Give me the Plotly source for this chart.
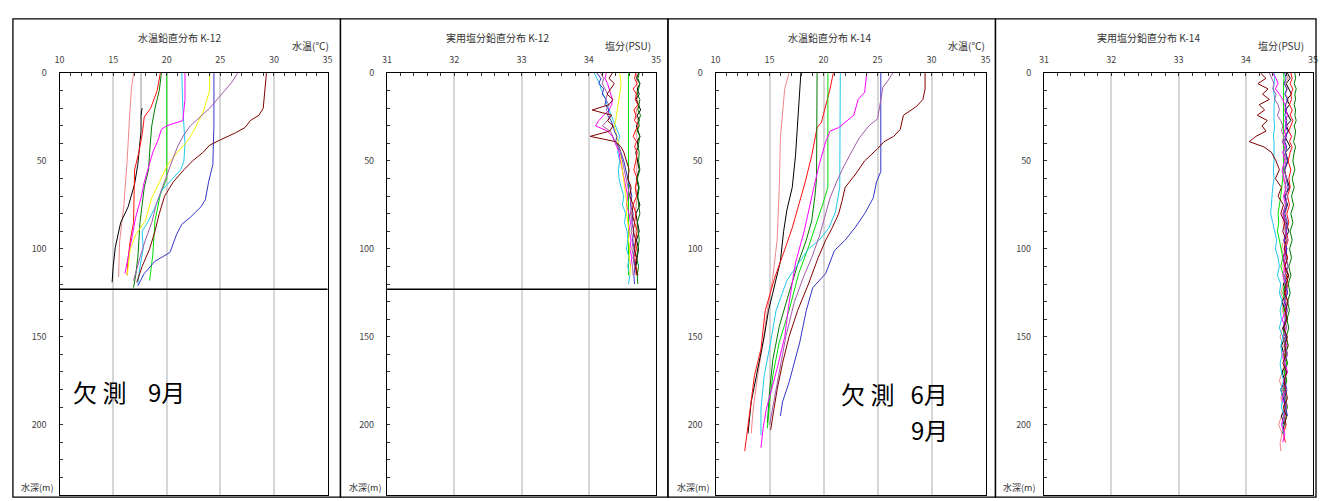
import plotly.graph_objects as go

W, H = 1323, 501          # browser window = figure size (page margin removed below)

# ---------------- colours (one per observation month) ----------------
C_PINK = "#f08888"
C_BLACK = "#000000"
C_RED = "#ff1010"
C_DKGREEN = "#007a00"
C_GREEN = "#00dd00"
C_CYAN = "#20c8f0"
C_MAGENTA = "#ff00ff"
C_YELLOW = "#f2f200"
C_BLUE = "#3434c8"
C_PURPLE = "#a05aa8"
C_MAROON = "#800000"
C_GRAY = "#909090"

# ---------------- K-12 water temperature (depth m, temp degC) ----------------
K12_T_PINK_D = [0, 9, 28, 50, 75, 96, 116]
K12_T_PINK = [16.9, 16.7, 16.5, 16.3, 16.0, 15.6, 15.5]
K12_T_GRAY_D = [0, 12, 24]
K12_T_GRAY = [17.6, 17.6, 17.6]
K12_T_BLACK_D = [20, 24, 33, 52, 63, 76, 85, 99, 110, 119]
K12_T_BLACK = [17.7, 17.6, 17.6, 17.3, 17.0, 16.4, 15.7, 15.2, 15.0, 14.9]
K12_T_RED_D = [0, 10, 20, 25, 35, 45, 55, 85, 95, 105, 115]
K12_T_RED = [19.4, 19.1, 18.5, 17.9, 17.7, 17.4, 17.0, 16.9, 16.6, 16.4, 16.3]
K12_T_DKGREEN_D = [0, 10, 20, 30, 45, 55, 65, 75, 85, 95, 105, 115, 122]
K12_T_DKGREEN = [19.5, 19.3, 18.9, 18.6, 18.4, 18.3, 17.9, 17.7, 17.5, 17.4, 17.3, 17.1, 16.9]
K12_T_GREEN_D = [0, 30, 60, 69, 84, 103, 114, 118]
K12_T_GREEN = [20.0, 20.0, 20.0, 19.4, 18.9, 18.7, 18.5, 18.4]
K12_T_CYAN_D = [0, 20, 40, 50, 55, 62, 67, 75, 84, 90, 100, 110, 120]
K12_T_CYAN = [21.4, 21.5, 21.7, 21.6, 21.3, 20.2, 19.5, 19.0, 18.3, 17.7, 17.8, 17.5, 17.3]
K12_T_MAGENTA_D = [0, 15, 27, 30, 32, 38, 45, 54, 62, 71, 82, 92, 105, 114]
K12_T_MAGENTA = [21.7, 21.7, 21.5, 20.0, 19.5, 19.2, 18.7, 18.3, 17.9, 17.6, 17.1, 16.8, 16.4, 16.1]
K12_T_YELLOW_D = [0, 10, 22, 33, 39, 45, 52, 60, 71, 84, 92, 100, 110, 115]
K12_T_YELLOW = [24.0, 24.0, 23.4, 22.5, 21.9, 21.0, 20.1, 19.5, 18.6, 18.0, 17.1, 16.6, 16.4, 16.3]
K12_T_BLUE_D = [0, 30, 52, 62, 72, 76, 82, 86, 92, 102, 107, 114, 121]
K12_T_BLUE = [24.4, 24.4, 24.3, 23.9, 23.6, 23.2, 22.2, 21.4, 20.9, 20.3, 18.9, 17.9, 17.3]
K12_T_PURPLE_D = [0, 5, 10, 15, 20, 25, 30, 35, 42, 50, 58, 66, 75, 85, 95, 105, 115, 118]
K12_T_PURPLE = [26.6, 26.1, 25.4, 24.7, 24.0, 23.1, 22.2, 21.6, 21.0, 20.5, 20.0, 19.5, 19.0, 18.6, 18.0, 17.5, 17.0, 16.9]
K12_T_MAROON_D = [0, 8, 20, 24, 27, 31, 34, 38, 41, 45, 50, 55, 62, 70, 80, 90, 100, 110, 119]
K12_T_MAROON = [29.3, 29.2, 29.0, 28.6, 27.8, 27.3, 26.4, 25.0, 24.0, 23.4, 22.4, 21.6, 20.6, 19.8, 19.3, 18.9, 18.4, 17.7, 17.2]

# ---------------- K-14 water temperature ----------------
K14_T_PINK_D = [0, 9, 37, 65, 95, 116, 135, 153, 172, 190, 205]
K14_T_PINK = [16.8, 16.4, 16.0, 15.9, 15.7, 15.3, 14.8, 14.4, 13.9, 13.5, 13.3]
K14_T_BLACK_D = [0, 28, 47, 65, 78, 90, 107, 125, 135, 150, 168, 187, 205]
K14_T_BLACK = [17.9, 17.6, 17.4, 17.1, 16.6, 16.3, 16.0, 15.3, 14.9, 14.5, 13.9, 13.3, 13.0]
K14_T_RED_D = [0, 9, 28, 31, 47, 62, 75, 88, 97, 116, 135, 157, 172, 195, 215]
K14_T_RED = [20.9, 20.6, 19.8, 19.4, 18.9, 18.3, 17.7, 17.1, 16.6, 15.5, 14.6, 14.2, 13.6, 13.1, 12.7]
K14_T_DKGREEN_D = [0, 30, 60, 70, 84, 95, 107, 125, 144, 163, 181, 199]
K14_T_DKGREEN = [19.4, 19.4, 19.35, 19.2, 18.9, 18.4, 17.7, 16.8, 15.9, 15.3, 15.0, 14.8]
K14_T_GREEN_D = [0, 30, 65, 75, 88, 99, 114, 135, 153, 172, 187, 202]
K14_T_GREEN = [20.4, 20.4, 20.4, 19.9, 19.2, 18.6, 17.7, 16.8, 15.9, 15.3, 15.0, 14.8]
K14_T_CYAN_D = [0, 30, 65, 79, 88, 95, 100, 108, 118, 135, 153, 172, 191, 206]
K14_T_CYAN = [21.55, 21.55, 21.5, 21.1, 20.5, 19.6, 18.6, 17.7, 16.6, 15.6, 15.1, 14.5, 14.2, 14.2]
K14_T_MAGENTA_D = [0, 11, 15, 24, 31, 33, 39, 52, 65, 78, 90, 108, 131, 150, 168, 191, 202, 213]
K14_T_MAGENTA = [24.0, 23.8, 23.2, 22.8, 21.4, 20.6, 20.2, 19.6, 19.1, 18.6, 18.2, 17.4, 16.8, 16.4, 15.7, 14.7, 14.4, 14.2]
K14_T_BLUE_D = [0, 30, 56, 62, 71, 80, 88, 95, 101, 114, 122, 135, 153, 176, 187, 195]
K14_T_BLUE = [25.3, 25.3, 25.3, 24.9, 24.6, 23.8, 22.9, 22.0, 21.0, 20.2, 19.0, 18.4, 17.8, 16.8, 16.2, 16.0]
K14_T_PURPLE_D = [0, 4, 8, 16, 26, 30, 37, 47, 54, 62, 71, 82, 93, 105, 115, 130, 150, 170, 190, 200]
K14_T_PURPLE = [26.4, 26.0, 25.5, 25.3, 25.0, 24.2, 23.3, 22.4, 21.8, 21.2, 20.6, 20.1, 19.6, 18.9, 18.2, 17.3, 16.5, 15.9, 15.3, 15.0]
K14_T_MAROON_D = [0, 9, 15, 19, 24, 32, 36, 39, 43, 50, 58, 65, 73, 80, 88, 95, 105, 120, 135, 150, 165, 180, 195, 203]
K14_T_MAROON = [29.4, 29.4, 29.2, 28.6, 27.4, 27.1, 26.5, 25.6, 25.0, 23.8, 22.9, 22.0, 21.7, 21.4, 20.8, 20.2, 19.5, 18.6, 17.6, 16.8, 16.2, 15.7, 15.3, 15.1]

# ---------------- K-12 practical salinity ----------------
K12_S_DEPTH = [0, 3, 6, 9, 12, 15, 18, 21, 24, 27, 30, 33, 36, 39, 42, 45, 50, 55, 60, 65, 70, 75, 80, 85, 90, 95, 100, 105, 110, 115, 120]
K12_S_PINK = [34.70, 34.72, 34.71, 34.73, 34.70, 34.72, 34.74, 34.71, 34.70, 34.73, 34.72, 34.70, 34.71, 34.73, 34.72, 34.70, 34.72, 34.71, 34.73, 34.70, 34.72, 34.71, 34.69, 34.72, 34.70, 34.71, 34.69, 34.70, 34.68, 34.70, 34.69]
K12_S_BLACK = [34.74, 34.71, 34.76, 34.72, 34.75, 34.70, 34.74, 34.77, 34.72, 34.75, 34.71, 34.74, 34.76, 34.72, 34.74, 34.70, 34.73, 34.75, 34.71, 34.74, 34.72, 34.76, 34.70, 34.73, 34.75, 34.71, 34.74, 34.72, 34.70, 34.73, 34.71]
K12_S_RED = [34.70, 34.68, 34.72, 34.66, 34.71, 34.69, 34.73, 34.67, 34.70, 34.68, 34.74, 34.69, 34.66, 34.71, 34.68, 34.72, 34.70, 34.67, 34.72, 34.69, 34.71, 34.66, 34.70, 34.68, 34.72, 34.69, 34.71, 34.67, 34.70, 34.72, 34.69]
K12_S_DKGREEN = [34.75, 34.73, 34.76, 34.74, 34.72, 34.76, 34.75, 34.73, 34.77, 34.74, 34.75, 34.72, 34.76, 34.74, 34.73, 34.75, 34.74, 34.76, 34.72, 34.75, 34.73, 34.74, 34.76, 34.72, 34.74, 34.75, 34.73, 34.71, 34.74, 34.72, 34.73]
K12_S_GREEN = [34.59, 34.59, 34.58, 34.59, 34.59, 34.58, 34.59, 34.59, 34.59, 34.58, 34.59, 34.59, 34.58, 34.59, 34.59, 34.59, 34.58, 34.59, 34.59, 34.58, 34.59, 34.59, 34.58, 34.59, 34.59, 34.58, 34.59, 34.59, 34.58, 34.59, 34.59]
K12_S_CYAN = [34.08, 34.12, 34.16, 34.18, 34.22, 34.25, 34.27, 34.30, 34.33, 34.36, 34.40, 34.42, 34.46, 34.44, 34.45, 34.43, 34.46, 34.44, 34.45, 34.48, 34.52, 34.50, 34.55, 34.53, 34.57, 34.58, 34.56, 34.60, 34.58, 34.61, 34.59]
K12_S_MAGENTA = [34.26, 34.24, 34.28, 34.30, 34.33, 34.35, 34.34, 34.30, 34.22, 34.15, 34.10, 34.28, 34.35, 34.38, 34.42, 34.45, 34.47, 34.50, 34.53, 34.55, 34.58, 34.56, 34.60, 34.62, 34.60, 34.63, 34.61, 34.64, 34.62, 34.65, 34.63]
K12_S_YELLOW = [34.46, 34.47, 34.48, 34.47, 34.46, 34.45, 34.44, 34.43, 34.42, 34.40, 34.38, 34.40, 34.42, 34.44, 34.45, 34.47, 34.48, 34.50, 34.52, 34.53, 34.55, 34.57, 34.56, 34.58, 34.60, 34.59, 34.61, 34.60, 34.62, 34.61, 34.63]
K12_S_BLUE = [34.12, 34.18, 34.15, 34.22, 34.20, 34.26, 34.24, 34.30, 34.28, 34.33, 34.36, 34.38, 34.42, 34.40, 34.45, 34.48, 34.52, 34.55, 34.58, 34.61, 34.64, 34.62, 34.66, 34.64, 34.67, 34.65, 34.68, 34.66, 34.69, 34.67, 34.68]
K12_S_PURPLE = [34.18, 34.22, 34.20, 34.24, 34.28, 34.25, 34.30, 34.26, 34.32, 34.28, 34.20, 34.32, 34.36, 34.40, 34.44, 34.47, 34.50, 34.53, 34.56, 34.58, 34.61, 34.63, 34.62, 34.65, 34.63, 34.66, 34.64, 34.67, 34.65, 34.66, 34.64]
K12_S_MAROON = [34.35, 34.30, 34.38, 34.33, 34.27, 34.36, 34.30, 34.05, 34.34, 34.28, 34.36, 34.31, 34.02, 34.40, 34.48, 34.52, 34.56, 34.60, 34.58, 34.63, 34.61, 34.66, 34.64, 34.68, 34.66, 34.70, 34.67, 34.71, 34.69, 34.72, 34.70]

# ---------------- K-14 practical salinity ----------------
K14_S_DEPTH = [0, 3, 6, 9, 12, 15, 18, 21, 24, 27, 30, 33, 36, 39, 42, 45, 50, 55, 60, 65, 70, 75, 80, 85, 90, 95, 100, 105, 110, 115, 120, 125, 130, 135, 140, 145, 150, 155, 160, 165, 170, 175, 180, 185, 190, 195, 200, 205, 210, 215]
K14_S_PINK = [34.60, 34.63, 34.58, 34.62, 34.59, 34.64, 34.60, 34.57, 34.62, 34.59, 34.63, 34.58, 34.61, 34.57, 34.60, 34.56, 34.62, 34.58, 34.55, 34.60, 34.57, 34.62, 34.58, 34.55, 34.60, 34.57, 34.53, 34.58, 34.55, 34.60, 34.56, 34.52, 34.57, 34.54, 34.59, 34.55, 34.51, 34.56, 34.53, 34.58, 34.54, 34.50, 34.55, 34.52, 34.57, 34.53, 34.49, 34.54, 34.51, 34.52]
K14_S_BLACK = [34.62, 34.66, 34.60, 34.64, 34.68, 34.61, 34.65, 34.59, 34.63, 34.67, 34.60, 34.64, 34.58, 34.62, 34.66, 34.59, 34.63, 34.57, 34.61, 34.65, 34.58, 34.62, 34.56, 34.60, 34.64, 34.57, 34.61, 34.55, 34.59, 34.63, 34.56, 34.60, 34.54, 34.58, 34.62, 34.55, 34.59, 34.53, 34.57, 34.61, 34.54, 34.58, 34.52, 34.56, 34.60, 34.53, 34.57, 34.55, 34.58, 34.54]
K14_S_RED = [34.67, 34.69, 34.66, 34.70, 34.67, 34.68, 34.65, 34.69, 34.66, 34.70, 34.67, 34.64, 34.68, 34.65, 34.69, 34.66, 34.63, 34.67, 34.64, 34.66, 34.62, 34.65, 34.61, 34.64, 34.60, 34.63, 34.59, 34.62, 34.58, 34.61, 34.63, 34.59, 34.62, 34.58, 34.61, 34.57, 34.60, 34.63, 34.58, 34.61, 34.57, 34.60, 34.56, 34.59, 34.62, 34.57, 34.60, 34.56, 34.59, 34.57]
K14_S_DKGREEN = [34.73, 34.74, 34.72, 34.75, 34.73, 34.74, 34.72, 34.74, 34.73, 34.75, 34.72, 34.74, 34.73, 34.71, 34.74, 34.72, 34.70, 34.73, 34.69, 34.72, 34.68, 34.71, 34.67, 34.70, 34.66, 34.69, 34.65, 34.68, 34.64, 34.67, 34.63, 34.66, 34.62, 34.65, 34.61, 34.64, 34.60, 34.63, 34.59, 34.62, 34.58, 34.61, 34.57, 34.60, 34.58, 34.61, 34.57, 34.59, 34.60, 34.58]
K14_S_GREEN = [34.56, 34.57, 34.56, 34.56, 34.57, 34.56, 34.56, 34.57, 34.56, 34.56, 34.57, 34.56, 34.56, 34.57, 34.56, 34.56, 34.57, 34.56, 34.55, 34.54, 34.52, 34.50, 34.48, 34.49, 34.47, 34.50, 34.53, 34.55, 34.52, 34.56, 34.58, 34.55, 34.59, 34.56, 34.60, 34.57, 34.55, 34.59, 34.56, 34.61, 34.57, 34.60, 34.56, 34.58, 34.62, 34.57, 34.59, 34.56, 34.60, 34.58]
K14_S_CYAN = [34.42, 34.43, 34.42, 34.41, 34.42, 34.43, 34.42, 34.42, 34.41, 34.42, 34.43, 34.42, 34.41, 34.42, 34.42, 34.43, 34.42, 34.41, 34.42, 34.40, 34.39, 34.38, 34.37, 34.40, 34.43, 34.46, 34.44, 34.48, 34.50, 34.47, 34.52, 34.50, 34.54, 34.51, 34.53, 34.50, 34.55, 34.52, 34.54, 34.51, 34.53, 34.56, 34.52, 34.55, 34.53, 34.57, 34.54, 34.56, 34.53, 34.55]
K14_S_MAGENTA = [34.40, 34.45, 34.48, 34.44, 34.50, 34.55, 34.58, 34.60, 34.62, 34.58, 34.61, 34.57, 34.60, 34.56, 34.59, 34.55, 34.58, 34.54, 34.57, 34.60, 34.56, 34.59, 34.55, 34.58, 34.61, 34.57, 34.60, 34.56, 34.59, 34.55, 34.58, 34.62, 34.57, 34.60, 34.54, 34.59, 34.56, 34.61, 34.55, 34.58, 34.62, 34.56, 34.59, 34.54, 34.60, 34.57, 34.53, 34.58, 34.55, 34.52]
K14_S_BLUE = [34.58, 34.60, 34.57, 34.61, 34.58, 34.62, 34.59, 34.60, 34.58, 34.61, 34.59, 34.62, 34.60, 34.58, 34.61, 34.59, 34.62, 34.58, 34.60, 34.63, 34.59, 34.61, 34.58, 34.62, 34.60, 34.57, 34.61, 34.59, 34.63, 34.58, 34.60, 34.62, 34.58, 34.61, 34.59, 34.56, 34.60, 34.58, 34.62, 34.57, 34.60, 34.58, 34.61, 34.57, 34.59, 34.62, 34.58, 34.60, 34.57, 34.59]
K14_S_PURPLE = [34.35, 34.38, 34.42, 34.40, 34.45, 34.43, 34.48, 34.50, 34.47, 34.52, 34.55, 34.53, 34.57, 34.54, 34.58, 34.56, 34.60, 34.57, 34.61, 34.58, 34.62, 34.59, 34.56, 34.60, 34.58, 34.62, 34.57, 34.60, 34.63, 34.58, 34.61, 34.57, 34.60, 34.62, 34.58, 34.61, 34.56, 34.59, 34.62, 34.57, 34.60, 34.58, 34.55, 34.59, 34.61, 34.56, 34.59, 34.57, 34.60, 34.58]
K14_S_MAROON = [34.22, 34.30, 34.18, 34.33, 34.25, 34.35, 34.20, 34.28, 34.17, 34.32, 34.24, 34.30, 34.15, 34.05, 34.27, 34.38, 34.45, 34.50, 34.44, 34.53, 34.48, 34.56, 34.52, 34.58, 34.55, 34.60, 34.57, 34.62, 34.58, 34.64, 34.60, 34.57, 34.63, 34.59, 34.61, 34.56, 34.62, 34.58, 34.60, 34.55, 34.61, 34.57, 34.59, 34.62, 34.56, 34.60, 34.58, 34.61, 34.57, 34.59]

# deepest observed depth of each profile (m)
K12_END = {"pink": 116, "black": 119, "red": 115, "dkgreen": 122, "green": 118, "cyan": 120,
           "magenta": 114, "yellow": 115, "blue": 121, "purple": 118, "maroon": 119}
K14_END = {"pink": 215, "black": 205, "red": 213, "dkgreen": 200, "green": 202, "cyan": 206,
           "magenta": 210, "blue": 195, "purple": 200, "maroon": 203}
K12_BOTTOM = 123  # sea-floor depth at K-12 (m)

# axis settings
TEMP_RANGE = [10, 35]
SAL_RANGE = [31, 35]
DEPTH_RANGE = [240, 0]

TITLES = ["水温鉛直分布 K-12", "実用塩分鉛直分布 K-12", "水温鉛直分布 K-14", "実用塩分鉛直分布 K-14"]
UNITS = ["水温(℃)", "塩分(PSU)", "水温(℃)", "塩分(PSU)"]
NOTE_K12 = "欠\u00a0測\u00a0\u00a0\u00a0\u00a09月"
NOTE_K14_A = "欠\u00a0測\u00a0\u00a0\u00a06月"
NOTE_K14_B = "9月"

# ---------------- layout geometry (window pixels) ----------------
PLOT_X = [(55, 325), (385, 656), (716, 988), (1047, 1318)]
PLOT_Y = (67, 495)
PANEL_X = [(8, 338), (338, 668), (668, 998), (998, 1321)]
PANEL_Y = (12, 497)


def fx(px):
    return min(1.0, max(0.0, px / W))


def fy(py):
    return min(1.0, max(0.0, 1 - py / H))


fig = go.Figure()

COLORS = {"pink": C_PINK, "gray": C_GRAY, "black": C_BLACK, "red": C_RED, "dkgreen": C_DKGREEN,
          "green": C_GREEN, "cyan": C_CYAN, "magenta": C_MAGENTA, "yellow": C_YELLOW, "blue": C_BLUE,
          "purple": C_PURPLE, "maroon": C_MAROON}

k12_temp = [("pink", K12_T_PINK_D, K12_T_PINK), ("gray", K12_T_GRAY_D, K12_T_GRAY),
            ("black", K12_T_BLACK_D, K12_T_BLACK),
            ("red", K12_T_RED_D, K12_T_RED), ("dkgreen", K12_T_DKGREEN_D, K12_T_DKGREEN),
            ("green", K12_T_GREEN_D, K12_T_GREEN), ("cyan", K12_T_CYAN_D, K12_T_CYAN),
            ("magenta", K12_T_MAGENTA_D, K12_T_MAGENTA), ("yellow", K12_T_YELLOW_D, K12_T_YELLOW),
            ("blue", K12_T_BLUE_D, K12_T_BLUE), ("purple", K12_T_PURPLE_D, K12_T_PURPLE),
            ("maroon", K12_T_MAROON_D, K12_T_MAROON)]
k14_temp = [("pink", K14_T_PINK_D, K14_T_PINK), ("black", K14_T_BLACK_D, K14_T_BLACK),
            ("red", K14_T_RED_D, K14_T_RED), ("dkgreen", K14_T_DKGREEN_D, K14_T_DKGREEN),
            ("green", K14_T_GREEN_D, K14_T_GREEN), ("cyan", K14_T_CYAN_D, K14_T_CYAN),
            ("magenta", K14_T_MAGENTA_D, K14_T_MAGENTA), ("blue", K14_T_BLUE_D, K14_T_BLUE),
            ("purple", K14_T_PURPLE_D, K14_T_PURPLE), ("maroon", K14_T_MAROON_D, K14_T_MAROON)]
k12_sal = [("pink", K12_S_PINK), ("black", K12_S_BLACK), ("red", K12_S_RED), ("dkgreen", K12_S_DKGREEN),
           ("green", K12_S_GREEN), ("cyan", K12_S_CYAN), ("magenta", K12_S_MAGENTA),
           ("yellow", K12_S_YELLOW), ("blue", K12_S_BLUE), ("purple", K12_S_PURPLE), ("maroon", K12_S_MAROON)]
k14_sal = [("pink", K14_S_PINK), ("black", K14_S_BLACK), ("red", K14_S_RED), ("dkgreen", K14_S_DKGREEN),
           ("green", K14_S_GREEN), ("cyan", K14_S_CYAN), ("magenta", K14_S_MAGENTA),
           ("blue", K14_S_BLUE), ("purple", K14_S_PURPLE), ("maroon", K14_S_MAROON)]


def add_line(x, y, color, ax):
    fig.add_trace(go.Scatter(x=x, y=y, mode="lines", line=dict(color=color, width=1),
                             xaxis="x" + ax, yaxis="y" + ax, showlegend=False, hoverinfo="skip"))


for name, d, t in k12_temp:
    add_line(t, d, COLORS[name], "")
for name, v in k12_sal:
    dd = [d for d in K12_S_DEPTH if d <= K12_END[name]]
    add_line(v[:len(dd)], dd, COLORS[name], "2")
for name, d, t in k14_temp:
    add_line(t, d, COLORS[name], "3")
for name, v in k14_sal:
    dd = [d for d in K14_S_DEPTH if d <= K14_END[name]]
    add_line(v[:len(dd)], dd, COLORS[name], "4")

TICK_FONT = dict(family="Noto Sans CJK JP, DejaVu Sans", size=9, color="#444444")
layout = dict(width=W, height=H, margin=dict(l=0, r=0, t=0, b=0), autosize=False,
              paper_bgcolor="white", plot_bgcolor="white", showlegend=False)

for i in range(4):
    sfx = "" if i == 0 else str(i + 1)
    is_temp = i in (0, 2)
    layout["xaxis" + sfx] = dict(
        domain=[fx(PLOT_X[i][0]), fx(PLOT_X[i][1])], anchor="y" + sfx, side="top",
        range=TEMP_RANGE if is_temp else SAL_RANGE, dtick=5 if is_temp else 1,
        tick0=10 if is_temp else 31,
        showgrid=True, gridcolor="#d6d6d6", gridwidth=1.5,
        showline=True, mirror=True, linecolor="black", linewidth=1.3,
        ticks="inside", ticklen=3, tickcolor="#333333",
        minor=dict(dtick=1 if is_temp else 0.2, ticks="inside", ticklen=3, tickcolor="#333333",
                   showgrid=False),
        tickfont=TICK_FONT, ticklabelstandoff=5, zeroline=False, fixedrange=True)
    layout["yaxis" + sfx] = dict(
        domain=[fy(PLOT_Y[1]), fy(PLOT_Y[0])], anchor="x" + sfx, range=DEPTH_RANGE,
        dtick=50, tick0=0, showgrid=False, zeroline=False,
        showline=True, mirror=True, linecolor="black", linewidth=1.3,
        ticks="inside", ticklen=3, tickcolor="#333333",
        minor=dict(dtick=10, ticks="inside", ticklen=3, tickcolor="#333333", showgrid=False),
        tickfont=TICK_FONT, ticklabelstandoff=10, fixedrange=True)

fig.update_layout(**layout)

shapes = []
for (x0, x1) in PANEL_X:
    shapes.append(dict(type="rect", xref="paper", yref="paper", x0=fx(x0), x1=fx(x1),
                       y0=fy(PANEL_Y[1]), y1=fy(PANEL_Y[0]), line=dict(color="black", width=1.3)))
for ax in ("x", "x2"):
    ya = "y" if ax == "x" else "y2"
    shapes.append(dict(type="line", xref=ax + " domain", yref=ya, x0=0, x1=1,
                       y0=K12_BOTTOM, y1=K12_BOTTOM, line=dict(color="black", width=1.5)))
fig.update_layout(shapes=shapes)

TITLE_X = [176, 496, 831, 1152]
UNIT_X = [308, 628, 969, 1286]
DEPTH_LABEL_X = [32, 363, 693, 1022]
annotations = []
SMALL = dict(family="Noto Sans CJK JP, DejaVu Sans", size=10, color="#333333")
for i in range(4):
    annotations.append(dict(x=fx(TITLE_X[i]), y=fy(31), xref="paper", yref="paper", text=TITLES[i],
                            showarrow=False, font=SMALL, xanchor="center", yanchor="middle"))
    annotations.append(dict(x=fx(UNIT_X[i]), y=fy(39), xref="paper", yref="paper", text=UNITS[i],
                            showarrow=False, font=SMALL, xanchor="center", yanchor="middle"))
    annotations.append(dict(x=fx(DEPTH_LABEL_X[i]), y=fy(487), xref="paper", yref="paper", text="水深(m)",
                            showarrow=False, font=dict(family="Noto Sans CJK JP", size=9, color="#333333"),
                            xanchor="center", yanchor="middle"))

BIG = dict(family="Noto Sans CJK JP", size=24, color="black")
annotations.append(dict(x=fx(67), y=fy(390), xref="paper", yref="paper",
                        text=NOTE_K12, showarrow=False, font=BIG,
                        xanchor="left", yanchor="middle"))
annotations.append(dict(x=fx(952), y=fy(392), xref="paper", yref="paper",
                        text=NOTE_K14_A, showarrow=False, font=BIG,
                        xanchor="right", yanchor="middle"))
annotations.append(dict(x=fx(952), y=fy(428), xref="paper", yref="paper",
                        text=NOTE_K14_B, showarrow=False, font=BIG,
                        xanchor="right", yanchor="middle"))
fig.update_layout(annotations=annotations)

# remove the default page margin so that figure pixels equal window pixels
PAGE_JS = ("document.body.style.margin='0';document.body.style.padding='0';"
           "document.body.style.overflow='hidden';"
           "document.documentElement.style.overflow='hidden';")
fig.write_html("out.html", post_script=PAGE_JS, config={"displayModeBar": False})
